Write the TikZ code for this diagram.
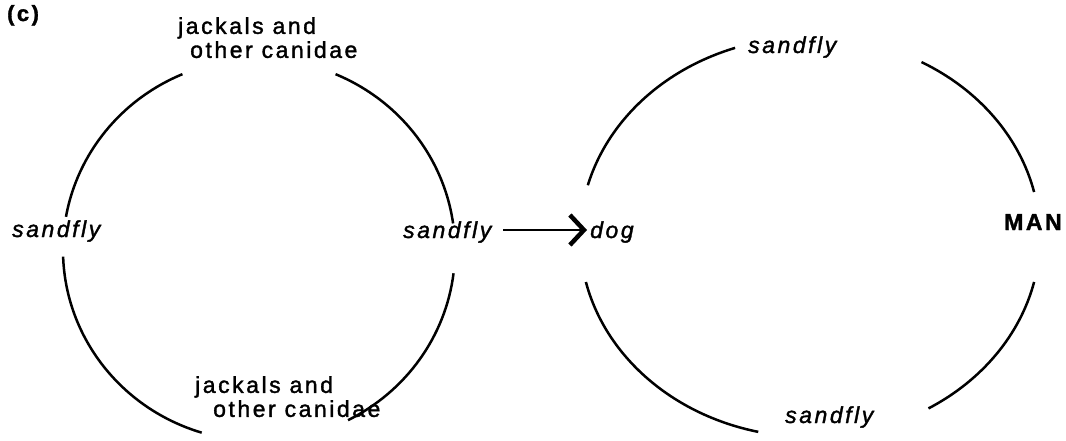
\documentclass[tikz,border=0pt]{standalone}
\usepackage{fontspec}
\usetikzlibrary{arrows.meta,calc}
\newfontfamily\cyclefont[LetterSpace=11,FakeBold=1.5]{Liberation Sans}

\tikzset{
  host/.style={font=\cyclefont\fontsize{23}{24}\selectfont, inner sep=0pt, align=left, anchor=north west},
  vector/.style={font=\cyclefont\itshape\fontsize{23}{24}\selectfont, inner sep=0pt, anchor=base west},
  ring/.style={line width=2.5pt},
  feed/.style={line width=2.5pt, -{Straight Barb[length=14pt,width=30pt,line width=4.5pt]}},
}

\begin{document}
\begin{tikzpicture}[x=1pt,y=1pt]
  \useasboundingbox (0,0) rectangle (1066,440);
  \coordinate (lc) at (259,190);
  \coordinate (rc) at (810,203);

  \node[font=\cyclefont\bfseries\fontsize{22}{24}\selectfont, inner sep=0pt, anchor=base west] (tag) at (7,419) {(c)};

  % left cycle
  \node[host] (jtop) at (178,423) {jackals and\\\hspace*{12pt}other canidae};
  \node[host] (jbot) at (195,64) {jackals and\\\hspace*{18pt}other canidae};
  \node[vector] (lsand) at (12,203) {sandfly};
  \node[vector] (msand) at (403,202) {sandfly};
  \draw[ring] ($(lc)+(113:196pt and 191pt)$) arc[start angle=113, end angle=170, x radius=196pt, y radius=191pt];
  \draw[ring] ($(lc)+(8:196pt and 191pt)$) arc[start angle=8, end angle=67, x radius=196pt, y radius=191pt];
  \draw[ring] ($(lc)+(-7:196pt and 191pt)$) arc[start angle=-7, end angle=-63, x radius=196pt, y radius=191pt];
  \draw[ring] ($(lc)+(182:196pt and 191pt)$) arc[start angle=182, end angle=253, x radius=196pt, y radius=191pt];

  % right cycle
  \node[vector] (dog) at (590,202) {dog};
  \node[vector] (tsand) at (748,387) {sandfly};
  \node[vector] (bsand) at (785,17) {sandfly};
  \node[font=\cyclefont\bfseries\fontsize{23}{24}\selectfont, inner sep=0pt, anchor=base west] (man) at (1004,210) {MAN};
  \draw[ring] ($(rc)+(109:230pt and 200pt)$) arc[start angle=109, end angle=165, x radius=230pt, y radius=200pt];
  \draw[ring] ($(rc)+(13:230pt and 200pt)$) arc[start angle=13, end angle=61, x radius=230pt, y radius=200pt];
  \draw[ring] ($(rc)+(-13:230pt and 200pt)$) arc[start angle=-13, end angle=-59, x radius=230pt, y radius=200pt];
  \draw[ring] ($(rc)+(193:230pt and 200pt)$) arc[start angle=193, end angle=257, x radius=230pt, y radius=200pt];

  \draw[feed] ([shift={(12pt,8pt)}]msand.base east) -- ([shift={(-3pt,8pt)}]dog.base west);
\end{tikzpicture}
\end{document}
